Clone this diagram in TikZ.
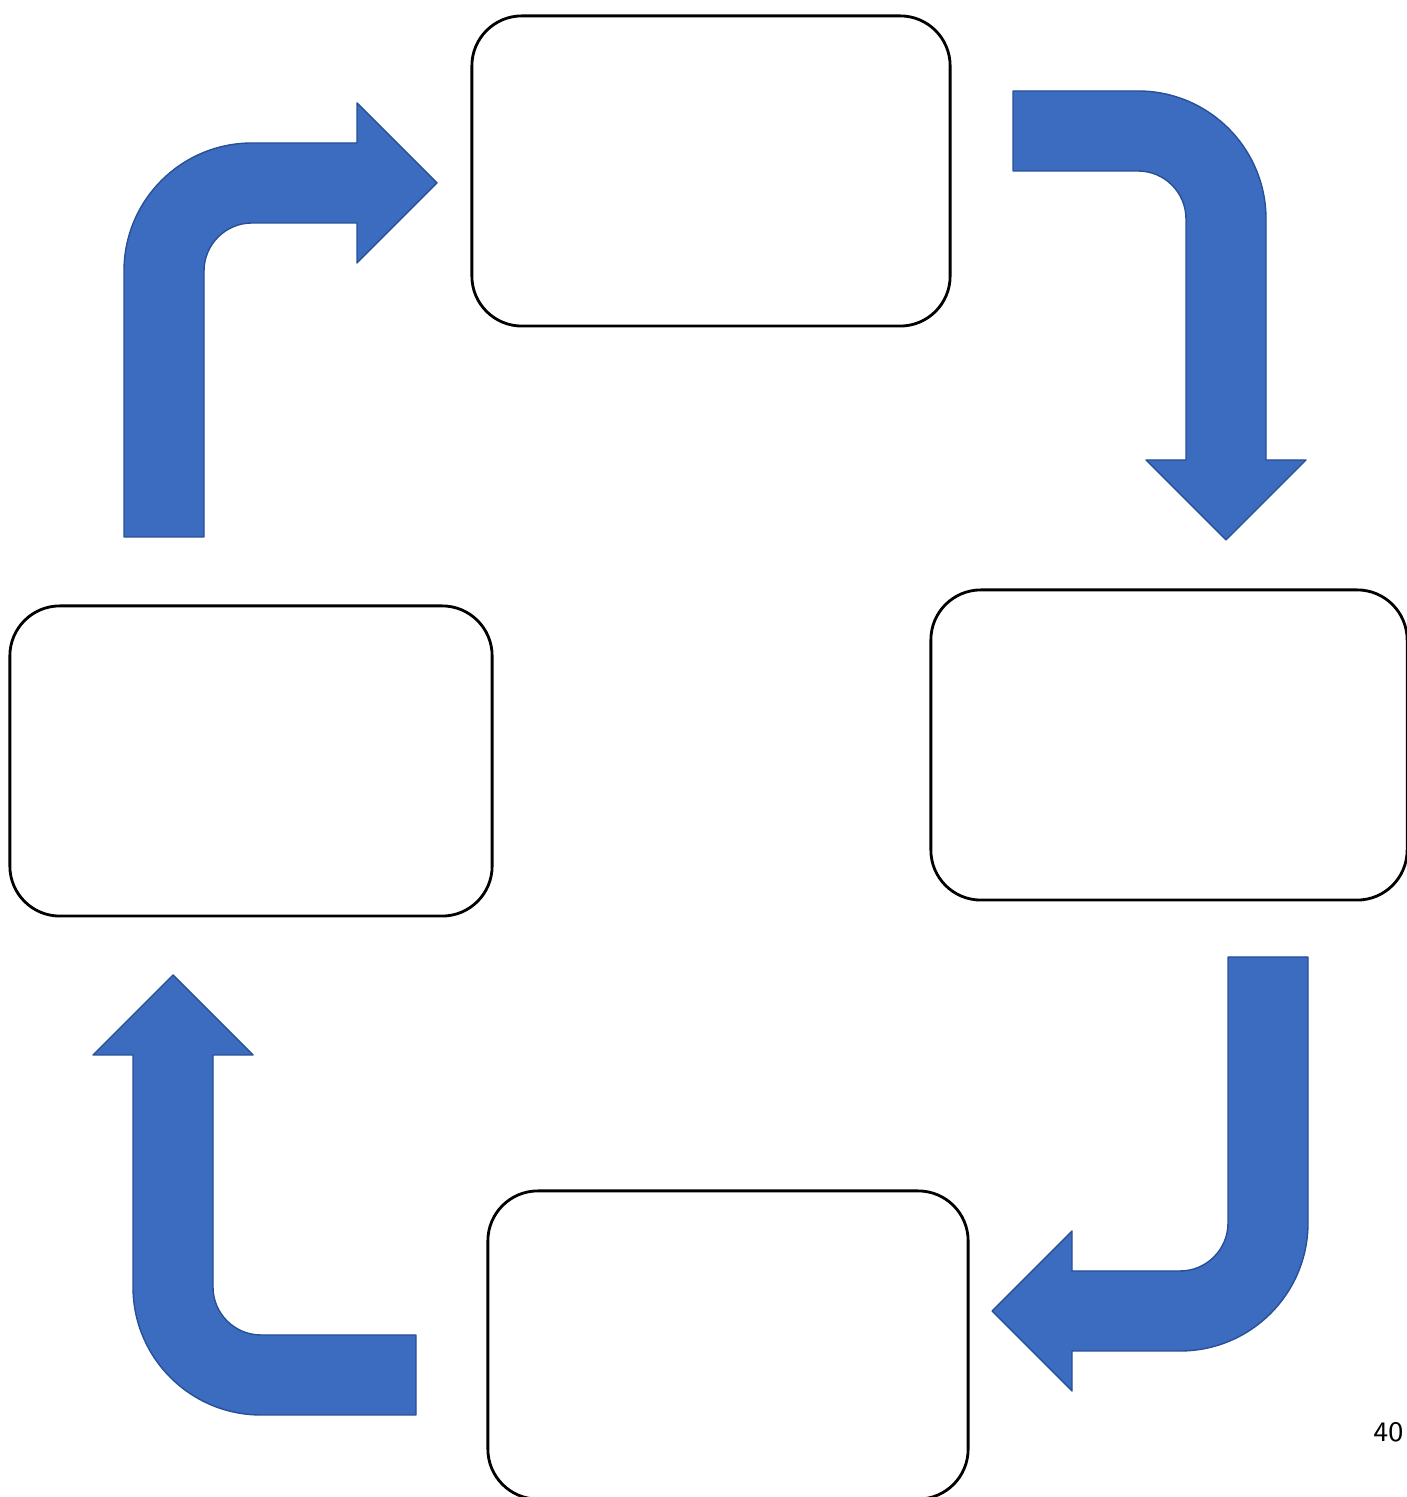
\documentclass[tikz,border=0pt]{standalone}
\usepackage{xcolor}
\definecolor{arrblue}{RGB}{59,108,192}
\definecolor{arredge}{RGB}{40,80,150}

\begin{document}
\begin{tikzpicture}[x=0.01cm, y=0.01cm,
  card/.style={draw, rounded corners=5mm, line width=0.8pt, minimum width=4.8cm,
    minimum height=3.1cm, inner sep=0pt},
  bent/.style={fill=arrblue, draw=arredge, line width=0.4pt, line join=round}]
\useasboundingbox (0,0) rectangle (1407,1497);
\clip (0,0) rectangle (1407,1497);
\newcommand{\bentarr}[5]{\draw[bent, shift={(#1,#2)}, rotate=#3]
  (-40,0) -- (-40,#4-88) arc[start angle=180, end angle=90, radius=128]
  -- (#5,#4+40) -- (#5,#4+80) -- (#5+80,#4) -- (#5,#4-80) -- (#5,#4-40)
  -- (88,#4-40) arc[start angle=90, end angle=180, radius=48] -- (40,0) -- cycle;}
\node[card, minimum width=4.78cm] (topbox) at (711,1326) {};
\node[card, minimum width=4.76cm] (rightbox) at (1169,752) {};
\node[card, minimum width=4.82cm] (leftbox) at (251,736) {};
\node[card, minimum height=3.08cm] (botbox) at (728,152) {};
\bentarr{164}{960}{0}{354}{193}
\bentarr{1013}{1366}{-90}{213}{329}
\bentarr{1268}{540}{180}{354}{196}
\bentarr{416}{122}{90}{243}{320}
\node[font=\sffamily\footnotesize, anchor=east, inner sep=0pt] (pageno) at (1404,65) {40};
\end{tikzpicture}
\end{document}
